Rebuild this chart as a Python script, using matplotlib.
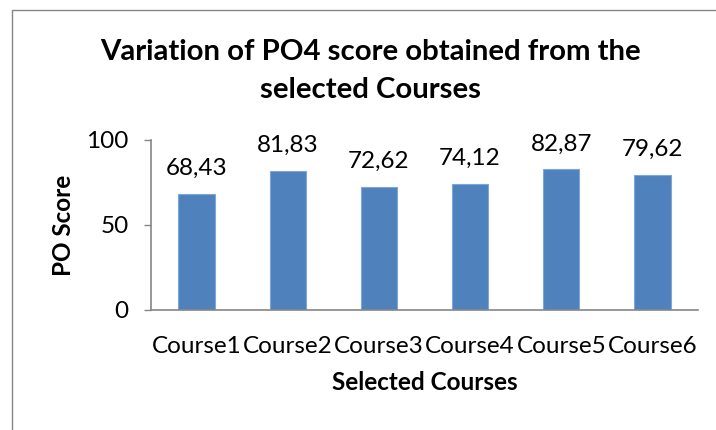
import matplotlib.pyplot as plt
from matplotlib.patches import Rectangle

courses = ['Course1', 'Course2', 'Course3', 'Course4', 'Course5', 'Course6']
po4_scores = [68.43, 81.83, 72.62, 74.12, 82.87, 79.62]
y_ticks = [0, 50, 100]

plt.rcParams['font.family'] = ['Lato', 'DejaVu Sans']

fig = plt.figure(figsize=(7.16, 4.30), dpi=100)
W, H = 716, 430

# chart frame (cropped on the right and bottom like the original)
fig.patches.append(Rectangle((12 / W, -0.1), 1.2, 1 - 10 / H + 0.1,
                             transform=fig.transFigure, fill=False,
                             edgecolor='#868686', linewidth=1.0))

ax = fig.add_axes([151 / W, 1 - 310 / H, (698 - 151) / W, (310 - 140) / H])
x = range(len(courses))
bars = ax.bar(x, po4_scores, width=0.4, color='#4F81BD',
              edgecolor='#7FA6D6', linewidth=0.8)

for rect, v in zip(bars, po4_scores):
    ax.annotate(f'{v:.2f}'.replace('.', ','),
                (rect.get_x() + rect.get_width() / 2, rect.get_height()),
                xytext=(0, 13.5), textcoords='offset points',
                ha='center', va='baseline', fontsize=17.5)

ax.set_xlim(-0.5, len(courses) - 0.5)
ax.set_ylim(0, 100)
ax.set_yticks(y_ticks)
ax.set_xticks(list(x))
ax.set_xticklabels(courses)
ax.tick_params(axis='y', length=5, width=1, color='#868686', pad=11, labelsize=17.5)
ax.tick_params(axis='x', length=0, pad=19, labelsize=17.5)

for side in ['top', 'right']:
    ax.spines[side].set_visible(False)
for side in ['left', 'bottom']:
    ax.spines[side].set_color('#868686')
    ax.spines[side].set_linewidth(1.2)

ax.set_ylabel('PO Score', fontsize=17.5, fontweight='bold', labelpad=8)
ax.set_xlabel('Selected Courses', fontsize=17.5, fontweight='bold', labelpad=10)

fig.text(370 / W, 1 - 71 / H, 'Variation of PO4 score obtained from the\nselected Courses',
         ha='center', va='center', fontsize=21.2, fontweight='bold', linespacing=1.55)

fig.savefig('out.png', dpi=100)
